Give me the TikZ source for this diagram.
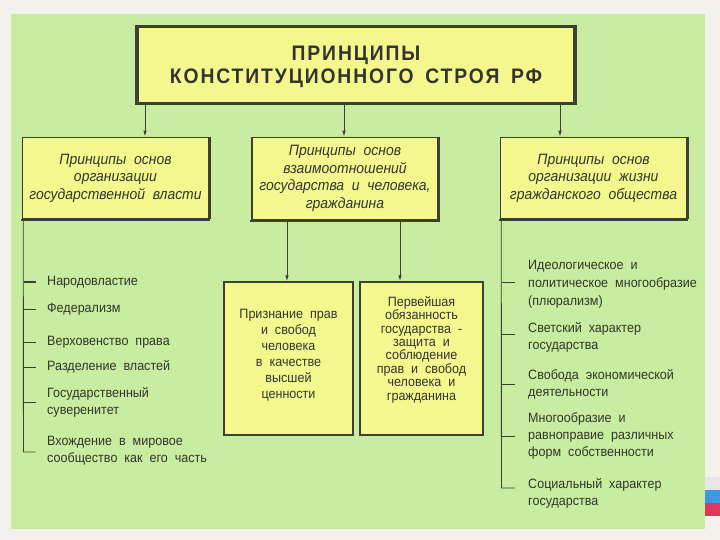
\documentclass[tikz,border=0pt]{standalone}
\usepackage{fontspec}
\setmainfont{Liberation Sans}
\newfontfamily\narrowfont[FakeStretch=0.93,WordSpace=2]{Liberation Sans}
\newfontfamily\titlefont[FakeStretch=0.92,LetterSpace=9,WordSpace=1.6]{Liberation Sans}
\usetikzlibrary{arrows.meta}
\definecolor{outerbg}{HTML}{F3F1EC}
\definecolor{panel}{HTML}{C8EDA0}
\definecolor{boxfill}{HTML}{F4F78D}
\definecolor{linec}{HTML}{3E3F33}
\definecolor{textc}{HTML}{33342C}
\definecolor{flagblue}{HTML}{3C9BE0}
\definecolor{flagred}{HTML}{E0385A}
\definecolor{flagwhite}{HTML}{E6E6E6}
\begin{document}
\begin{tikzpicture}[x=1pt,y=-1pt,
  titlebox/.style={draw=linec,fill=boxfill,line width=3.5pt,minimum width=438pt,minimum height=77pt,inner sep=0pt},
  catbox/.style={draw=linec,fill=boxfill,line width=1.6pt,minimum width=186pt,minimum height=81pt,inner sep=0pt,
     text=textc,align=center,font=\narrowfont\itshape\fontsize{15}{17.5}\selectfont},
  lowbox/.style={draw=linec,fill=boxfill,line width=1.3pt,inner sep=0pt},
  boxtext/.style={text=textc,align=center,inner sep=0pt},
  item/.style={text=textc,align=left,anchor=west,inner sep=0pt,font=\narrowfont\fontsize{13.5}{17}\selectfont},
  conn/.style={draw=linec,line width=0.9pt},
  arr/.style={conn,-{Latex[length=6pt,width=3.5pt]}},
  tick/.style={draw=linec,line width=0.9pt}
]
\fill[outerbg] (0,0) rectangle (720,540);
\useasboundingbox (0,0) rectangle (720,540);
\fill[panel] (11,14) rectangle (705,529);
% flag stripes
\fill[flagwhite] (705,477) rectangle (720,490);
\fill[flagblue] (705,490) rectangle (720,503);
\fill[flagred] (705,503) rectangle (720,516);

% title
\node[titlebox] (top) at (356,65) {};
\node[text=textc,align=center,inner sep=0pt,font=\titlefont\bfseries\fontsize{21}{23.5}\selectfont] (toptext) at ([yshift=-2pt]top.center)
  {ПРИНЦИПЫ\\КОНСТИТУЦИОННОГО СТРОЯ РФ};

% category boxes
\node[catbox] (L) at (115.5,178) {Принципы основ\\организации\\государственной власти};
\node[catbox,minimum height=82pt] (M) at (345,178.5) {Принципы основ\\взаимоотношений\\государства и человека,\\гражданина};
\node[catbox] (R) at (593.5,178) {Принципы основ\\организации жизни\\гражданского общества};
\foreach \b in {L,M,R}{
  \draw[linec,line width=2.2pt] ([xshift=-0.8pt,yshift=-0.6pt]\b.south west) -- ([xshift=0.8pt,yshift=-0.6pt]\b.south east);
  \draw[linec,line width=1.2pt] ([xshift=0.6pt]\b.north east) -- ([xshift=0.6pt]\b.south east);
}

% arrows from title
\coordinate (a1) at (145,0);
\coordinate (a2) at (344,0);
\coordinate (a3) at (560,0);
\draw[arr] (top.south -| a1) -- (L.north -| a1);
\draw[arr] (top.south -| a2) -- (M.north -| a2);
\draw[arr] (top.south -| a3) -- (R.north -| a3);

% lower boxes
\node[lowbox,minimum width=129pt,minimum height=153pt] (P1) at (288.5,358.5) {};
\node[boxtext,font=\narrowfont\fontsize{13.5}{16}\selectfont] (P1t) at ([yshift=3pt]P1.center)
  {Признание прав\\и свобод\\человека\\в качестве\\высшей\\ценности};
\node[lowbox,minimum width=123pt,minimum height=153pt] (P2) at (421.5,358.5) {};
\node[boxtext,font=\narrowfont\fontsize{13.5}{13.4}\selectfont] (P2t) at ([yshift=9pt]P2.center)
  {Первейшая\\обязанность\\государства -\\защита и\\соблюдение\\прав и свобод\\человека и\\гражданина};
\coordinate (b1) at (287,0);
\coordinate (b2) at (400,0);
\draw[arr] (M.south -| b1) -- (P1.north -| b1);
\draw[arr] (M.south -| b2) -- (P2.north -| b2);

% left list
\coordinate (lv) at ([xshift=1.5pt]L.south west);
\coordinate (lend) at (23.5,452);
\draw[conn] (lv) -- (lend) -- ++(12,0);
\coordinate (l1) at (23.5,282);
\coordinate (l2) at (23.5,309);
\coordinate (l3) at (23.5,342);
\coordinate (l4) at (23.5,367);
\coordinate (l5) at (23.5,402);
\draw[tick,line width=1.6pt] (l1) -- ++(12,0);
\foreach \t in {l2,l3,l4,l5}{ \draw[tick] (\t) -- ++(12,0); }
\node[item] (i1) at (47,282) {Народовластие};
\node[item] (i2) at (47,309) {Федерализм};
\node[item] (i3) at (47,342) {Верховенство права};
\node[item] (i4) at (47,367) {Разделение властей};
\node[item] (i5) at (47,402) {Государственный\\суверенитет};
\node[item] (i6) at (47,451) {Вхождение в мировое\\сообщество как его часть};

% right list
\coordinate (rv) at ([xshift=1.5pt]R.south west);
\coordinate (rend) at (501.5,488);
\draw[conn] (rv) -- (rend) -- ++(13,0);
\coordinate (r1) at (501.5,282);
\coordinate (r2) at (501.5,334);
\coordinate (r3) at (501.5,384);
\coordinate (r4) at (501.5,436);
\foreach \t in {r1,r2,r3,r4}{ \draw[tick] (\t) -- ++(13,0); }
\node[item,font=\narrowfont\fontsize{13.5}{18}\selectfont] (j1) at (528,284) {Идеологическое и\\политическое многообразие\\(плюрализм)};
\node[item] (j2) at (528,337) {Светский характер\\государства};
\node[item] (j3) at (528,384.5) {Свобода экономической\\деятельности};
\node[item] (j4) at (528,435.5) {Многообразие и\\равноправие различных\\форм собственности};
\node[item] (j5) at (528,493) {Социальный характер\\государства};
\end{tikzpicture}
\end{document}
